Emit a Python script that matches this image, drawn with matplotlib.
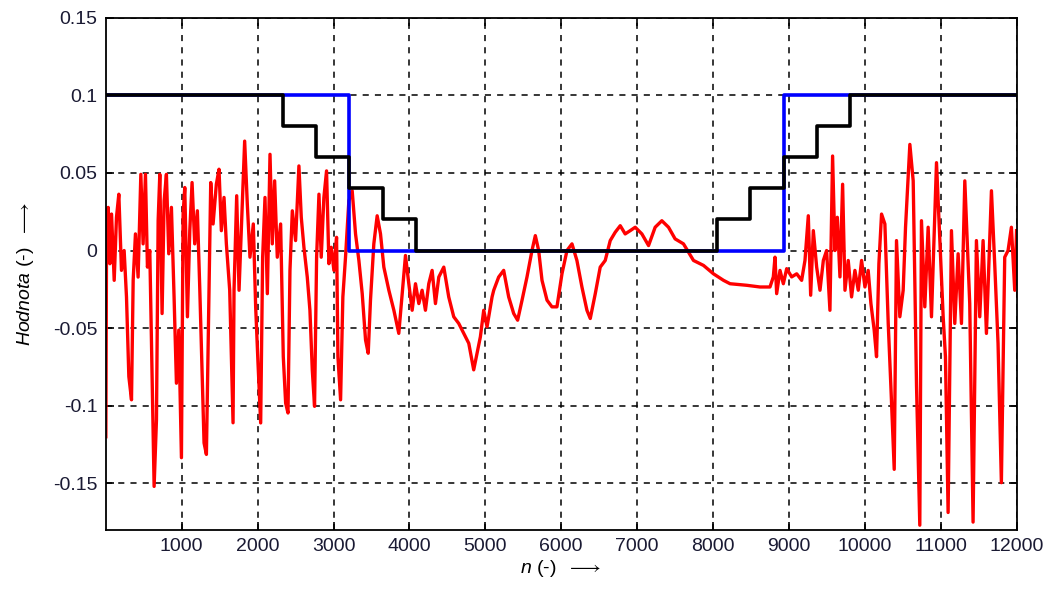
import numpy as np
import matplotlib
matplotlib.use('Agg')
import matplotlib.pyplot as plt

plt.rcParams['font.family'] = ['Liberation Sans', 'DejaVu Sans']
plt.rcParams['mathtext.fontset'] = 'custom'
plt.rcParams['mathtext.rm'] = 'Liberation Sans'
plt.rcParams['mathtext.it'] = 'Liberation Sans:italic'

n_sig = [0, 10, 31, 53, 75, 110, 140, 171, 206, 241,
         272, 303, 338, 360, 390, 425, 461, 491, 522, 548,
         579, 601, 636, 667, 689, 711, 741, 768, 798, 829,
         864, 899, 930, 961, 996, 1018, 1040, 1075, 1106, 1136,
         1171, 1206, 1237, 1268, 1294, 1325, 1356, 1382, 1413, 1456,
         1491, 1522, 1557, 1588, 1632, 1676,
         1689, 1724, 1755, 1785, 1829, 1864, 1899, 1943, 1974, 2005,
         2040, 2066, 2097, 2128, 2163, 2193, 2224, 2259, 2303, 2338,
         2369, 2400, 2426, 2457, 2500, 2544, 2575, 2610, 2654, 2689,
         2720, 2750, 2777, 2808, 2838, 2873, 2908, 2939, 2970, 3005,
         3040, 3058, 3093, 3123, 3158, 3202, 3246,
         3290, 3334, 3378, 3422, 3457, 3487, 3531, 3575, 3619, 3663,
         3729, 3795, 3860, 3913, 3948, 3992, 4036, 4080, 4124, 4167,
         4211, 4255, 4299, 4343, 4387, 4453, 4518, 4584, 4650, 4716,
         4782, 4847, 4891, 4935, 4979, 5023, 5089,
         5111, 5176, 5242, 5308, 5374, 5426, 5484, 5549, 5615, 5659,
         5703, 5747, 5813, 5878, 5944, 6010, 6076, 6142, 6207, 6273,
         6339, 6383, 6449, 6514, 6580, 6646, 6712, 6778, 6843, 6909,
         6975, 7063, 7151, 7238, 7326, 7414, 7501, 7611, 7743, 7875,
         8006, 8138,
         8225, 8444, 8620, 8751, 8795, 8817, 8839, 8883, 8927, 8971,
         9037, 9103, 9168, 9212, 9256, 9287, 9322, 9366, 9410, 9454,
         9497, 9541, 9576, 9607, 9638, 9673, 9708, 9739, 9782, 9826,
         9870, 9914, 9958, 10002, 10045, 10081, 10124, 10155, 10186, 10221,
         10265, 10309, 10344, 10388, 10418, 10462, 10506, 10537, 10594, 10638,
         10682, 10725, 10747, 10791, 10835, 10879, 10945, 10989, 11033, 11063,
         11098, 11142, 11186, 11230, 11274, 11318, 11383, 11427, 11471, 11515,
         11559, 11603, 11669, 11712, 11756, 11800, 11844, 11888, 11932, 11976,
         12000]
h_sig = [-0.12, 0.02, 0.0278, -0.0085, 0.0235, -0.0192, 0.0214, 0.0363, -0.0128, 0.0,
         -0.0299, -0.0812, -0.0962, -0.0192, 0.0107, -0.0171, 0.0491, 0.0043, 0.0491, -0.0107,
         0.0, -0.0577, -0.152, -0.109, 0.0192, 0.0491, -0.0406, 0.032, 0.0491, -0.0021,
         0.0278, -0.0299, -0.0855, -0.0513, -0.1335, 0.0235, 0.0406, -0.0427, 0.0128, 0.0438,
         0.0043, 0.0256, -0.0235, -0.0769, -0.124, -0.1314, -0.0342, 0.0438, 0.0171, 0.0427,
         0.0524, 0.0128, 0.0342, 0.0043, -0.0256, -0.111,
         -0.0256, 0.0353, -0.0256, 0.0128, 0.0705, 0.0299, -0.0043, 0.0171, -0.0363, -0.0726,
         -0.1111, -0.0043, 0.0342, -0.0278, 0.062, 0.0043, 0.0449, -0.0043, 0.0171, -0.0684,
         -0.0983, -0.1047, -0.0128, 0.0256, 0.0064, 0.0545, 0.0214, 0.0021, -0.0171, -0.0385,
         -0.0769, -0.1004, -0.0043, 0.0363, -0.0043, 0.0342, 0.0513, -0.0085, 0.0021, -0.0128,
         0.0085, -0.0684, -0.0962, -0.0299, -0.0043, 0.032, 0.0385,
         0.0107, -0.0064, -0.0278, -0.0577, -0.0662, -0.032, 0.0043, 0.0224, 0.0107, -0.0107,
         -0.0256, -0.0385, -0.0534, -0.0235, -0.0032, -0.0214, -0.0385, -0.0214, -0.0342, -0.0256,
         -0.0385, -0.0214, -0.0128, -0.0342, -0.0171, -0.0107, -0.0299, -0.0427, -0.047, -0.0534,
         -0.0598, -0.0769, -0.0662, -0.0556, -0.0385, -0.0491, -0.0299,
         -0.0256, -0.0171, -0.0128, -0.0299, -0.0406, -0.0449, -0.032, -0.0171, 0.0, 0.0096,
         0.0, -0.0192, -0.032, -0.0363, -0.0363, -0.015, 0.0, 0.0043, -0.0064, -0.0235,
         -0.0385, -0.0438, -0.0278, -0.0107, -0.0064, 0.0064, 0.0118, 0.016, 0.0107, 0.0128,
         0.015, 0.0107, 0.0032, 0.015, 0.0192, 0.015, 0.0075, 0.0043, -0.0064, -0.0096,
         -0.015, -0.0192,
         -0.0214, -0.0224, -0.0235, -0.0235, -0.017, -0.0043, -0.0278, -0.0128, -0.0214, -0.0117,
         -0.017, -0.015, -0.0192, -0.0064, 0.0224, -0.0288, 0.0128, -0.0107, -0.0256, -0.0064,
         0.0, -0.0385, 0.0609, 0.0, 0.0214, -0.017, 0.0427, -0.0256, -0.0064, -0.0299,
         -0.0128, -0.0256, -0.0064, -0.0235, -0.0128, -0.0342, -0.0513, -0.0684, -0.0085, 0.0235,
         0.0171, -0.047, -0.0876, -0.141, 0.0064, -0.0427, -0.0256, 0.015, 0.0684, 0.0449,
         -0.0876, -0.177, 0.0192, -0.0363, 0.015, -0.0427, 0.0566, 0.0064, -0.0427, -0.0684,
         -0.1688, 0.0128, -0.047, -0.0021, -0.047, 0.0449, -0.0342, -0.175, 0.0064, -0.0427,
         0.0064, -0.0534, 0.0385, -0.0085, -0.0598, -0.1496, -0.0043, 0.0, 0.015, -0.0256,
         0.0128]

# threshold step curves
n_black = [0, 2330, 2770, 3210, 3650, 4090, 8050, 8490, 8930, 9370, 9810, 12000]
h_black = [0.1, 0.08, 0.06, 0.04, 0.02, 0.0, 0.02, 0.04, 0.06, 0.08, 0.1, 0.1]
n_blue = [0, 3210, 8930, 12000]
h_blue = [0.1, 0.0, 0.1, 0.1]

xticks = np.arange(1000, 12001, 1000)
yticks = [-0.15, -0.1, -0.05, 0, 0.05, 0.1, 0.15]
ylabels = ['-0.15', '-0.1', '-0.05', '0', '0.05', '0.1', '0.15']

fig = plt.figure(figsize=(10.48, 5.92), dpi=100)
ax = fig.add_axes([0.101, 0.105, 0.869, 0.865])

ax.plot(n_sig, h_sig, color='red', lw=2.4)
ax.step(n_blue, h_blue, where='post', color='#0000ff', lw=2.6)
ax.step(n_black, h_black, where='post', color='black', lw=2.6)

ax.set_xlim(0, 12000)
ax.set_ylim(-0.18, 0.15)
ax.set_xticks(xticks)
ax.set_xticklabels([str(v) for v in xticks])
ax.set_yticks(yticks)
ax.set_yticklabels(ylabels)
ax.tick_params(direction='in', top=True, right=True, labelsize=14, length=6, width=1.2,
               pad=6, labelcolor='#1a1a33')
ax.grid(True, color='black', ls=(0, (4, 4)), lw=1.1)
for s in ax.spines.values():
    s.set_linewidth(1.3)

ax.set_xlabel(r'$\it{n}$ (-)  $\longrightarrow$', fontsize=14, labelpad=2)
ax.set_ylabel(r'$\it{Hodnota}$ (-)  $\longrightarrow$', fontsize=14, labelpad=12)

fig.savefig('out.png', dpi=100)
